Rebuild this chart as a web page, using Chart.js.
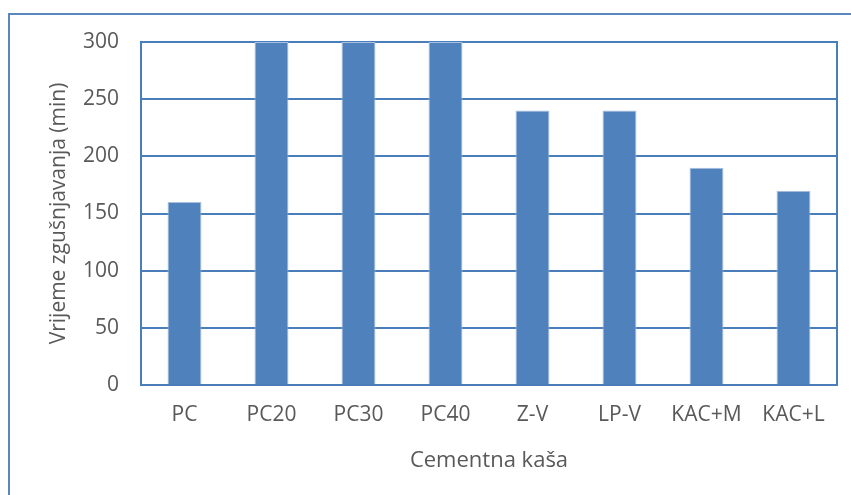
<!DOCTYPE html>
<html>
<head>
<meta charset="utf-8">
<script src="https://cdn.jsdelivr.net/npm/chart.js@4"></script>
<style>
  html, body { margin: 0; padding: 0; background: #fff; overflow: hidden; }
  #okvir {
    position: absolute; left: 0; top: 0; width: 851px; height: 495px;
  }
  /* vanjski okvir grafikona */
  #rub {
    position: absolute; left: 8px; top: 13px; width: 900px; height: 600px;
    border-left: 2px solid #5A87C2; border-top: 2px solid #5A87C2;
    pointer-events: none;
  }
  canvas { position: absolute; left: 0; top: 0; }
</style>
</head>
<body>
<div id="okvir">
  <canvas id="graf" width="851" height="495"></canvas>
  <div id="rub"></div>
</div>
<script>
// Vrijeme zgušnjavanja po vrsti cementne kaše
const kase = ["PC", "PC20", "PC30", "PC40", "Z-V", "LP-V", "KAC+M", "KAC+L"];
const vrijeme = [160, 300, 300, 300, 240, 240, 190, 170];
const osY = { min: 0, max: 300, korak: 50 };

const PLAVA = "#4F81BD";
const MREZA = "#4A7EBB";
const TEKST = "#595959";
const FONT = "'Open Sans', sans-serif";

// okvir oko područja crtanja (gornja i desna strana)
const okvirPodrucja = {
  id: "okvirPodrucja",
  beforeDatasetsDraw(chart) {
    const { ctx, chartArea: a } = chart;
    ctx.save();
    ctx.strokeStyle = MREZA;
    ctx.lineWidth = 2;
    ctx.strokeRect(a.left, a.top, a.right - a.left, a.bottom - a.top);
    ctx.restore();
  },
};

new Chart(document.getElementById("graf"), {
  type: "bar",
  data: {
    labels: kase,
    datasets: [{
      data: vrijeme,
      backgroundColor: PLAVA,
      borderColor: "#A9C1E0",
      borderWidth: 1,
      barPercentage: 0.39,
      categoryPercentage: 1,
    }],
  },
  options: {
    responsive: false,
    animation: false,
    layout: { padding: { top: 42, right: 14, left: 0, bottom: 0 } },
    plugins: { legend: { display: false }, tooltip: { enabled: false } },
    scales: {
      x: {
        grid: { display: false, drawTicks: false },
        border: { display: true, color: MREZA, width: 2 },
        ticks: { color: TEKST, font: { family: FONT, size: 21 }, padding: 17, maxRotation: 0 },
        title: {
          display: true, text: "Cementna kaša", color: TEKST,
          font: { family: FONT, size: 22 }, padding: { top: 0, bottom: 21 },
        },
        afterFit: (s) => { s.height = 110; },
      },
      y: {
        min: osY.min, max: osY.max,
        grid: { color: MREZA, lineWidth: 2, drawTicks: false },
        border: { display: true, color: MREZA, width: 2 },
        ticks: {
          stepSize: osY.korak, color: TEKST,
          font: { family: FONT, size: 21 }, padding: 22,
        },
        title: {
          display: true, text: "Vrijeme zgušnjavanja (min)", color: TEKST,
          font: { family: FONT, size: 21 }, padding: { top: 46, bottom: 0 },
        },
        afterFit: (s) => { s.width = 141; },
      },
    },
  },
  plugins: [okvirPodrucja],
});
</script>
</body>
</html>
